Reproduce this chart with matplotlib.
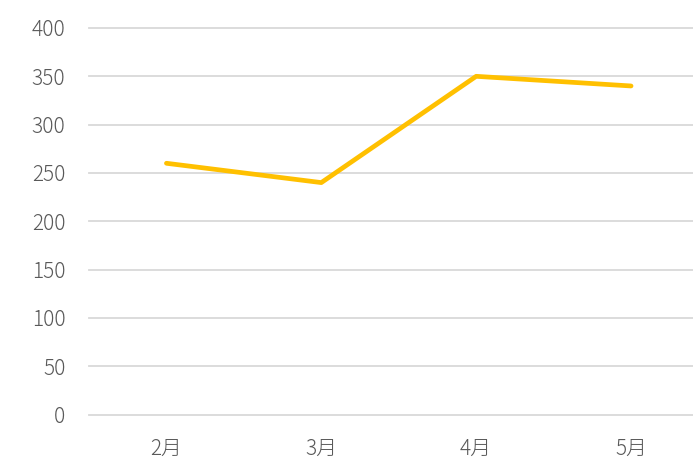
import matplotlib.pyplot as plt

plt.rcParams['font.family'] = ['Noto Sans CJK JP', 'DejaVu Sans']

months = ["2月", "3月", "4月", "5月"]
values = [260, 240, 350, 340]
y_ticks = [0, 50, 100, 150, 200, 250, 300, 350, 400]

fig = plt.figure(figsize=(6.93, 4.62), dpi=100)
ax = fig.add_axes([89 / 693, 1 - 414.5 / 462, 1 - 89 / 693, (414.5 - 28) / 462])

x = list(range(len(months)))
ax.plot(x, values, color="#FFC000", linewidth=3.4, solid_capstyle="round", zorder=3)

ax.set_xlim(-0.5, 3.4)
ax.set_ylim(0, 400)
ax.set_xticks(x)
ax.set_xticklabels(months)
ax.set_yticks(y_ticks)
ax.grid(True, axis="y", color="#D9D9D9", linewidth=1.3, clip_on=False)
for gl in ax.get_ygridlines():
    gl.set_clip_on(False)
ax.set_axisbelow(True)
for s in ax.spines.values():
    s.set_visible(False)
ax.tick_params(axis="both", length=0, labelsize=15, labelcolor="#595959")
ax.tick_params(axis="y", pad=17)
ax.tick_params(axis="x", pad=17)
for lab in ax.get_xticklabels() + ax.get_yticklabels():
    lab.set_fontweight("light")

fig.savefig("out.png", dpi=100)
